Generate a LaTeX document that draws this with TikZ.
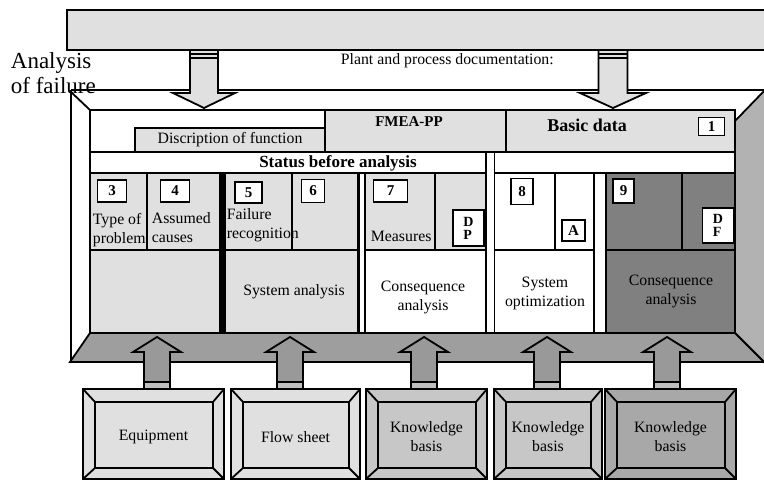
\documentclass[tikz,border=0pt]{standalone}
\usepackage{fontspec}
\setmainfont{Liberation Serif}
\usepackage{xcolor}
\usepackage{tikz}
\usetikzlibrary{arrows,shapes}

\begin{document}
\begin{tikzpicture}[x=1pt,y=-1pt,line width=1.8pt,
  every node/.style={inner sep=0pt,font=\fontsize{15.8}{19}\selectfont},
  numbox/.style={draw=black,fill=white,line width=1.8pt,font=\fontsize{15}{17}\selectfont\bfseries},
  lettbox/.style={draw=black,fill=white,line width=1.8pt,align=left,font=\fontsize{14}{13}\selectfont\bfseries}]
  \useasboundingbox (0,0) rectangle (764,481);
  \filldraw[fill=black!12,draw=black] (67,10) rectangle (767,50);
  \draw (71,90) -- (767,90);
  \draw (71,92) -- (90,110);
  \filldraw[fill=black!30,draw=black] (735,121) -- (766,89) -- (766,364) -- (735,333) -- cycle;
  \filldraw[fill=black!38,draw=black] (90,333) -- (735,333) -- (764,362) -- (70,362) -- cycle;
  \draw (71,90) -- (71,362);
  \filldraw[fill=white,draw=black] (90,110) rectangle (735,333);
  \filldraw[fill=black!12,draw=black] (135,128) rectangle (325,152);
  \filldraw[fill=black!12,draw=black] (325,110) rectangle (506,152);
  \filldraw[fill=black!12,draw=black] (506,110) rectangle (735,152);
  \draw (90,152) rectangle (486,173);
  \draw (494.5,152) rectangle (735,173);
  \foreach \a/\b/\c in {90/147/black!12,147/220/black!12,225/292/black!12,292/358/black!12,
    365/435/black!12,435/486/black!12,494.5/555/white,555/594/white,606/682/black!50,682/735/black!50}
    \filldraw[fill=\c,draw=black] (\a,173) rectangle (\b,250);
  \foreach \a/\b/\c in {90/220/black!12,225/358/black!12,365/486/white,494.5/594/white,606/735/black!50}
    \filldraw[fill=\c,draw=black] (\a,250) rectangle (\b,333);
  \fill[black] (219,173) rectangle (224.5,333);
  \filldraw[fill=white,draw=black] (358.7,173) rectangle (364.7,333);
  \filldraw[fill=white,draw=black] (486,152) rectangle (494.5,333);
  \filldraw[fill=white,draw=black] (594,173) rectangle (606,333);
  \foreach \x/\y/\w/\h/\t in {112/191/29/22/3,175/191/29/22/4,248.5/192.5/27/21/5,313/191/23/23/6,
    390.5/191/34/22/7,522/191.5/22/26/8,623.5/191/21/24/9,573.5/230.5/23/21/A,711.5/126.5/26/18/1}
    \node[numbox,minimum width=\w pt,minimum height=\h pt] (box\t) at (\x,\y) {\t};
  \node[lettbox,minimum width=31pt,minimum height=36pt] (dpbox) at (468.5,228) {D\\P};
  \node[lettbox,minimum width=31pt,minimum height=35pt] (dfbox) at (718,225.5) {D\\F};
  \node[anchor=base west] (plantdoc) at (340,65) {Plant and process documentation:};
  \node (descfunc) at (230,140) {Discription of function};
  \node[anchor=base,font=\fontsize{15}{17}\selectfont\bfseries] (fmea) at (409,127) {FMEA-PP};
  \node[anchor=base,font=\fontsize{18}{20}\selectfont\bfseries] (basicdata) at (587,132) {Basic data};
  \node[anchor=base,font=\fontsize{17}{19}\selectfont\bfseries] (status) at (338,168) {Status before analysis};
  \node[anchor=north west,align=left] (typeprob) at (92,212) {Type of\\problem};
  \node[anchor=north west,align=left] (causes) at (151,212) {Assumed\\causes};
  \node[anchor=north west,align=left] (recog) at (226,208) {Failure\\recognition};
  \node[anchor=base west] (measures) at (370,242) {Measures};
  \node (sysanal) at (294,292) {System analysis};
  \node[align=center] (conseq) at (423,297) {Consequence\\analysis};
  \node[align=center] (sysopt) at (545,293) {System\\optimization};
  \node[align=center] (conseqdf) at (671,291) {Consequence\\analysis};
  \foreach \x/\s/\h in {204/14/31,613/14.5/33}{
    \filldraw[fill=black!12,draw=black] (\x-\s,50) -- (\x-\s,93) -- (\x-\h,93) -- (\x,108)
      -- (\x+\h,93) -- (\x+\s,93) -- (\x+\s,50) -- cycle;
    \draw[line width=1.2pt] (\x-\s,54) -- (\x+\s,54) (\x-\s,58) -- (\x+\s,58);
  }
  \foreach \x in {157,290,424,547,667}{
    \filldraw[fill=black!40,draw=black] (\x-13,389) -- (\x-13,352) -- (\x-24,352) -- (\x,337)
      -- (\x+24,352) -- (\x+13,352) -- (\x+13,389) -- cycle;
    \filldraw[fill=black!25,draw=black] (\x-13,382) rectangle (\x+13,389);
  }
  \foreach \a/\b/\c/\t [count=\i] in {83/224/black!12/Equipment,231/360/black!12/Flow sheet,
    366/487/black!22/{Knowledge\\basis},494/602/black!22/{Knowledge\\basis},605/736/black!34/{Knowledge\\basis}}{
    \filldraw[fill=\c,draw=black] (\a,389) rectangle (\b,479);
    \draw (\a+12,402) rectangle (\b-11,468);
    \draw (\a,389) -- (\a+12,402) (\b,389) -- (\b-11,402) (\a,479) -- (\a+12,468) (\b,479) -- (\b-11,468);
    \node[align=center] (base\i) at ({(\a+\b)/2},437) {\t};
  }
  \node[anchor=north west,align=left,font=\fontsize{23}{25}\selectfont] (failure) at (10,52) {Analysis\\of failure};
\end{tikzpicture}
\end{document}
